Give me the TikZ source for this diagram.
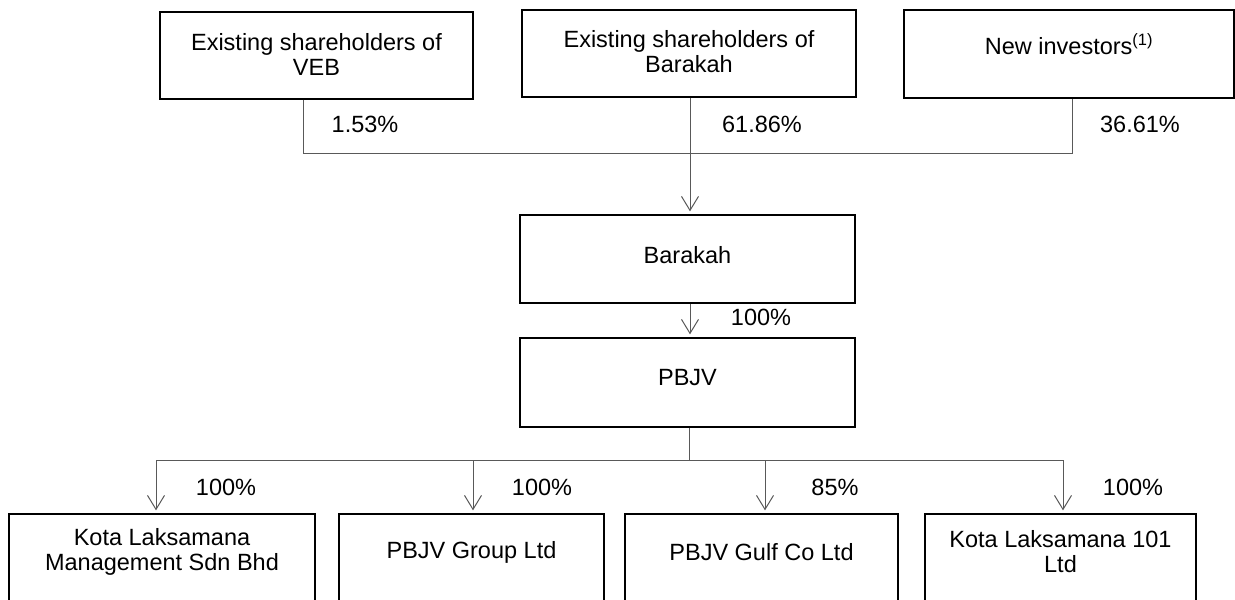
\documentclass[tikz,border=0pt]{standalone}
\usepackage{fontspec}
\setmainfont{Liberation Sans}
\usetikzlibrary{arrows.meta}
\begin{document}
\begin{tikzpicture}[x=1pt,y=-1pt,
  box/.style={draw=black,line width=1.3pt,rectangle,inner sep=0pt},
  txt/.style={font=\fontsize{23.5}{25}\selectfont,align=center,inner sep=0pt},
  pct/.style={font=\fontsize{23.5}{25}\selectfont,inner sep=0pt},
  conn/.style={draw=black!65,line width=1pt},
  arr/.style={conn,-{Straight Barb[length=14pt,width=17pt,line width=1pt]},shorten >=3pt}]
\clip (0,0) rectangle (1235,600);
\fill[white] (0,0) rectangle (1235,600);
% top row
\node[box,minimum width=313,minimum height=87] (veb) at (316.5,55.5) {};
\node[box,minimum width=334,minimum height=87] (shb) at (689,53.5) {};
\node[box,minimum width=330,minimum height=88] (newi) at (1069,54) {};
\node[txt] (vebT) at (316.5,54) {Existing shareholders of\\VEB};
\node[txt] (shbT) at (689,52) {Existing shareholders of\\Barakah};
\node[txt] (newiT) at (1069,44) {New investors\textsuperscript{(1)}};
% middle
\node[box,minimum width=335,minimum height=88] (bar) at (687.5,259) {};
\node[txt] (barT) at (687.5,255) {Barakah};
\node[box,minimum width=335,minimum height=89] (pbjv) at (687.5,382.5) {};
\node[txt] (pbjvT) at (687.5,378) {PBJV};
% bottom
\node[box,minimum width=306,minimum height=130] (k1) at (162,579) {};
\node[box,minimum width=265,minimum height=130] (pg) at (471.5,579) {};
\node[box,minimum width=273,minimum height=130] (pgc) at (761.5,579) {};
\node[box,minimum width=271,minimum height=130] (k101) at (1060.5,579) {};
\node[txt] (k1T) at (162,552) {Kota Laksamana\\Management Sdn Bhd};
\node[txt] (pgT) at (471.5,552) {PBJV Group Ltd};
\node[txt] (pgcT) at (761.5,552) {PBJV Gulf Co Ltd};
\node[txt] (k101T) at (1060.5,552) {Kota Laksamana 101\\Ltd};
% coordinates for connectors
\coordinate (j1) at (303,153);
\coordinate (j2) at (690,153);
\coordinate (j3) at (1072,153);
\coordinate (h0) at (689,460);
\coordinate (h1) at (156,460);
\coordinate (h2) at (473,460);
\coordinate (h3) at (765,460);
\coordinate (h4) at (1063,460);
% top connectors
\draw[conn] (veb.south -| j1) -- (j1) -- (j3) -- (newi.south -| j3);
\draw[arr] (shb.south -| j2) -- (bar.north -| j2);
\draw[arr] (bar.south -| j2) -- (pbjv.north -| j2);
% bottom connectors
\draw[conn] (pbjv.south -| h0) -- (h0);
\draw[conn] (h1) -- (h4);
\draw[arr] (h1) -- (k1.north -| h1);
\draw[arr] (h2) -- (pg.north -| h2);
\draw[arr] (h3) -- (pgc.north -| h3);
\draw[arr] (h4) -- (k101.north -| h4);
% percentages
\node[pct] (p1) at (365,124) {1.53\%};
\node[pct] (p2) at (762,124) {61.86\%};
\node[pct] (p3) at (1140,124) {36.61\%};
\node[pct] (p4) at (761,317) {100\%};
\node[pct] (p5) at (226,487) {100\%};
\node[pct] (p6) at (542,487) {100\%};
\node[pct] (p7) at (835,487) {85\%};
\node[pct] (p8) at (1133,487) {100\%};
\end{tikzpicture}
\end{document}
